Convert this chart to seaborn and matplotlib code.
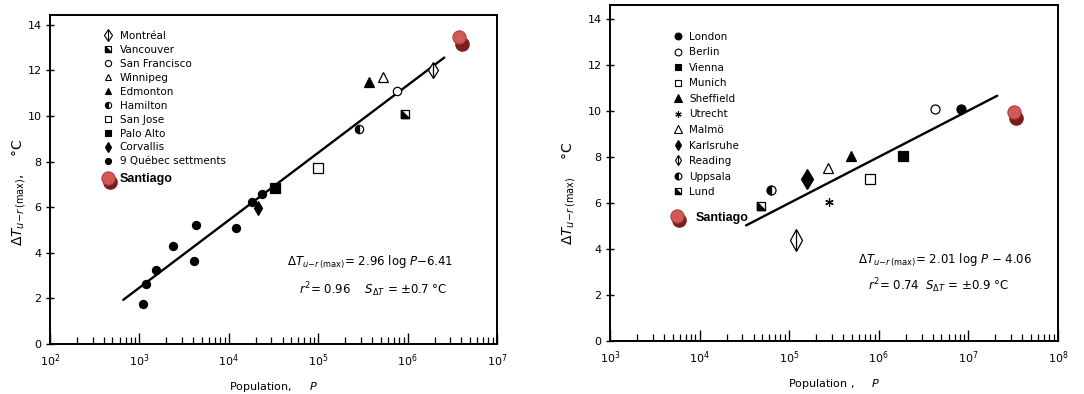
import numpy as np
import pandas as pd
import matplotlib
matplotlib.use("Agg")
import matplotlib.pyplot as plt
import matplotlib.transforms as mtransforms
from matplotlib.lines import Line2D
from matplotlib.legend_handler import HandlerBase, HandlerTuple
import seaborn as sns

# ---------------- data ----------------
left_cities = ["Montréal", "Vancouver", "San Francisco", "Winnipeg", "Edmonton",
               "Hamilton", "San Jose", "Palo Alto", "Corvallis"]
left_pop = [1.9e6, 9.3e5, 7.6e5, 5.3e5, 3.7e5, 2.85e5, 1.0e5, 3.3e4, 2.1e4]
left_dt = [12.0, 10.1, 11.1, 11.7, 11.5, 9.45, 7.7, 6.85, 5.95]
quebec_label = "9 Québec settments"
quebec_pop = [1.1e3, 1.18e3, 1.54e3, 2.4e3, 4.1e3, 4.35e3, 1.2e4, 1.8e4, 2.35e4]
quebec_dt = [1.75, 2.65, 3.25, 4.3, 3.65, 5.2, 5.1, 6.25, 6.6]
left_santiago_pop = [3.8e6]
left_santiago_dt = [13.45]
left_fit = (2.96, -6.41)
left_fit_range = [6.6e2, 2.57e6]

right_cities = ["London", "Berlin", "Vienna", "Munich", "Sheffield", "Utrecht",
                "Malmö", "Karlsruhe", "Reading", "Uppsala", "Lund"]
right_pop = [8.3e6, 4.2e6, 1.86e6, 7.9e5, 4.9e5, 2.77e5, 2.7e5, 1.58e5, 1.2e5, 6.2e4, 4.8e4]
right_dt = [10.1, 10.1, 8.05, 7.05, 8.05, 6.05, 7.5, 7.05, 4.4, 6.55, 5.85]
right_santiago_pop = [3.2e7]
right_santiago_dt = [9.95]
right_fit = (2.01, -4.06)
right_fit_range = [3.3e4, 2.1e7]

santiago_label = "Santiago"
yticks = [0, 2, 4, 6, 8, 10, 12, 14]

# ---------------- style ----------------
sns.set_theme(style="ticks")
plt.rcParams["font.family"] = ["DejaVu Sans"]
plt.rcParams["mathtext.fontset"] = "dejavusans"
for key in ["text.color", "axes.labelcolor", "xtick.color", "ytick.color",
            "axes.edgecolor"]:
    plt.rcParams[key] = "black"

RED = "#cf5a57"
RED_EDGE = "#b23d3b"
DARK = "#7a1d1d"

tri_ll = [(-1, -1), (1, -1), (-1, 1), (-1, -1)]


def spec(kind, ms):
    if kind == "open_diamond_bar":
        return [("d", "white", "full", ms), ("|", "black", "full", ms * 1.25)]
    if kind == "filled_diamond_bar":
        return [("d", "black", "full", ms), ("|", "black", "full", ms * 1.25)]
    if kind == "half_square":
        return [("s", "white", "full", ms), (tri_ll, "black", "full", ms)]
    if kind == "half_circle":
        return [("o", "black", "left", ms)]
    if kind == "asterisk":
        return [((6, 2, 0), "black", "full", ms)]
    mk, fill = kind.split("_")
    m = {"circle": "o", "square": "s", "triangle": "^", "diamond": "d"}[fill]
    return [(m, "black" if mk == "filled" else "white", "full", ms)]


left_kinds = ["open_diamond_bar", "half_square", "open_circle", "open_triangle",
              "filled_triangle", "half_circle", "open_square", "filled_square",
              "filled_diamond_bar"]
left_sizes = [8, 6, 6, 6.5, 6.5, 6, 6.5, 6.5, 7]
right_kinds = ["filled_circle", "open_circle", "filled_square", "open_square",
               "filled_triangle", "asterisk", "open_triangle", "filled_diamond",
               "open_diamond_bar", "half_circle", "half_square"]
right_sizes = [6.5, 6.5, 6.5, 6.5, 7, 6, 7, 10, 11, 6.5, 6]


def draw_points(ax, x, y, layers):
    for mk, fc, fs, ms in layers:
        sns.lineplot(x=x, y=y, ax=ax, estimator=None, sort=False, linestyle="",
                     marker=mk, markersize=ms, markerfacecolor=fc,
                     markerfacecoloralt="white", fillstyle=fs,
                     markeredgecolor="black", markeredgewidth=0.9,
                     color="black", legend=False)


def legend_handle(layers, scale=0.75):
    hs = []
    for mk, fc, fs, ms in layers:
        hs.append(Line2D([], [], linestyle="", marker=mk, markersize=ms * scale,
                         markerfacecolor=fc, markerfacecoloralt="white",
                         fillstyle=fs, markeredgecolor="black",
                         markeredgewidth=0.8, color="black"))
    return tuple(hs) if len(hs) > 1 else hs[0]


class ShadowHandler(HandlerBase):
    def create_artists(self, legend, orig, xdescent, ydescent, width, height,
                       fontsize, trans):
        cx = -xdescent + width / 2
        cy = -ydescent + height / 2
        sh = Line2D([cx + 1.5], [cy - 3.0], linestyle="", marker="o",
                    markersize=9.5, markerfacecolor=DARK, markeredgecolor=DARK,
                    transform=trans)
        mn = Line2D([cx], [cy], linestyle="", marker="o", markersize=9.5,
                    markerfacecolor=RED, markeredgecolor=RED_EDGE,
                    markeredgewidth=0.8, transform=trans)
        return [sh, mn]


def santiago(ax, fig, x, y):
    off = mtransforms.ScaledTranslation(2.0 / 72, -4.5 / 72, fig.dpi_scale_trans)
    ax.plot(x, y, linestyle="", marker="o", markersize=9.5,
            markerfacecolor=DARK, markeredgecolor=DARK,
            transform=ax.transData + off, zorder=4)
    sns.lineplot(x=x, y=y, ax=ax, estimator=None, sort=False, linestyle="",
                 marker="o", markersize=9.5, markerfacecolor=RED,
                 markeredgecolor=RED_EDGE, markeredgewidth=0.8, color=RED,
                 legend=False, zorder=5)


def fit_line(ax, rng, fit):
    xs = np.array(rng)
    ys = fit[0] * np.log10(xs) + fit[1]
    sns.lineplot(x=xs, y=ys, ax=ax, color="black", linewidth=1.7,
                 estimator=None, sort=False, legend=False, zorder=2)


def style_axes(ax, xlim, ylim_top):
    ax.set_xscale("log")
    ax.set_xlim(*xlim)
    ax.set_ylim(0, ylim_top)
    ax.set_yticks(yticks)
    ax.set_yticklabels([str(v) for v in yticks])
    for s in ax.spines.values():
        s.set_visible(True)
        s.set_linewidth(1.4)
        s.set_color("black")
    ax.tick_params(axis="x", which="major", direction="in", length=8, width=1,
                   labelsize=8, pad=6, top=False, colors="black")
    ax.tick_params(axis="x", which="minor", direction="in", length=5, width=0.9,
                   top=False, colors="black")
    ax.tick_params(axis="y", which="major", direction="inout", length=6, width=1,
                   labelsize=8, pad=3, right=False, colors="black")
    ax.xaxis.set_minor_locator(matplotlib.ticker.LogLocator(base=10, subs=np.arange(2, 10)))
    ax.xaxis.set_minor_formatter(matplotlib.ticker.NullFormatter())
    ax.grid(False)


fig = plt.figure(figsize=(10.84, 3.94), dpi=100)
axL = fig.add_axes([0.0461, 0.1269, 0.4124, 0.835])
axR = fig.add_axes([0.5627, 0.1345, 0.4133, 0.8528])

for ax in (axL, axR):
    ax.set_xscale("log")

# ---------------- left panel ----------------
style_axes(axL, (1e2, 1e7), 14.43)
fit_line(axL, left_fit_range, left_fit)
draw_points(axL, quebec_pop, quebec_dt, spec("filled_circle", 5.8))
for i, c in enumerate(left_cities):
    draw_points(axL, [left_pop[i]], [left_dt[i]], spec(left_kinds[i], left_sizes[i]))
santiago(axL, fig, left_santiago_pop, left_santiago_dt)

hL = [legend_handle(spec(k, s)) for k, s in zip(left_kinds, left_sizes)]
hL.append(legend_handle(spec("filled_circle", 5.8)))
legL = axL.legend(hL, left_cities + [quebec_label], loc="upper left",
                  bbox_to_anchor=(0.1186, 0.952), frameon=False, fontsize=7.5,
                  handlelength=1.0, handletextpad=0.6, labelspacing=0.38,
                  borderpad=0, borderaxespad=0, labelcolor="black",
                  handler_map={tuple: HandlerTuple(ndivide=1)})
axL.add_artist(legL)
sL = axL.legend([Line2D([], [])], [santiago_label], loc="upper left",
                bbox_to_anchor=(0.113, 0.52), frameon=False, labelcolor="black",
                prop={"family": "Liberation Sans", "weight": "bold", "size": 9},
                handlelength=1.2, handletextpad=0.35, borderpad=0, borderaxespad=0,
                handler_map={Line2D: ShadowHandler()})

axL.text(0.716, 0.249, r"$\Delta T_{u\!-\!r\,(\mathrm{max})}$= 2.96 log $P$−6.41",
         transform=axL.transAxes, ha="center", va="center", fontsize=8.5, color="black")
axL.text(0.723, 0.164, r"$r^2$= 0.96    $S_{\Delta T}$ = ±0.7 °C",
         transform=axL.transAxes, ha="center", va="center", fontsize=8.5, color="black")
axL.set_xlabel(r"Population,     $P$", fontsize=8, labelpad=8)
axL.set_ylabel(r"$\Delta T_{u\!-\!r\,(\mathrm{max})}$,    °C", fontsize=10)
axL.yaxis.set_label_coords(-0.05, 0.46)

# ---------------- right panel ----------------
style_axes(axR, (1e3, 1e8), 14.6)
fit_line(axR, right_fit_range, right_fit)
for i, c in enumerate(right_cities):
    draw_points(axR, [right_pop[i]], [right_dt[i]], spec(right_kinds[i], right_sizes[i]))
santiago(axR, fig, right_santiago_pop, right_santiago_dt)

hR = [legend_handle(spec(k, min(s, 7))) for k, s in zip(right_kinds, right_sizes)]
legR = axR.legend(hR, right_cities, loc="upper left",
                  bbox_to_anchor=(0.1406, 0.92), frameon=False, fontsize=7.5,
                  handlelength=1.0, handletextpad=0.55, labelspacing=0.53,
                  borderpad=0, borderaxespad=0, labelcolor="black",
                  handler_map={tuple: HandlerTuple(ndivide=1)})
axR.add_artist(legR)
sR = axR.legend([Line2D([], [])], [santiago_label], loc="upper left",
                bbox_to_anchor=(0.133, 0.385), frameon=False, labelcolor="black",
                prop={"family": "Liberation Sans", "weight": "bold", "size": 9},
                handlelength=1.2, handletextpad=0.9, borderpad=0, borderaxespad=0,
                handler_map={Line2D: ShadowHandler()})
sR.set_zorder(1)

axR.text(0.748, 0.241, r"$\Delta T_{u\!-\!r\,(\mathrm{max})}$= 2.01 log $P$ − 4.06",
         transform=axR.transAxes, ha="center", va="center", fontsize=8.5, color="black")
axR.text(0.734, 0.164, r"$r^2$= 0.74  $S_{\Delta T}$ = ±0.9 °C",
         transform=axR.transAxes, ha="center", va="center", fontsize=8.5, color="black")
axR.set_xlabel(r"Population ,     $P$", fontsize=8, labelpad=8)
axR.set_ylabel(r"$\Delta T_{u\!-\!r\,(\mathrm{max})}$    °C", fontsize=10)
axR.yaxis.set_label_coords(-0.071, 0.44)

fig.savefig("out.png", dpi=100)
